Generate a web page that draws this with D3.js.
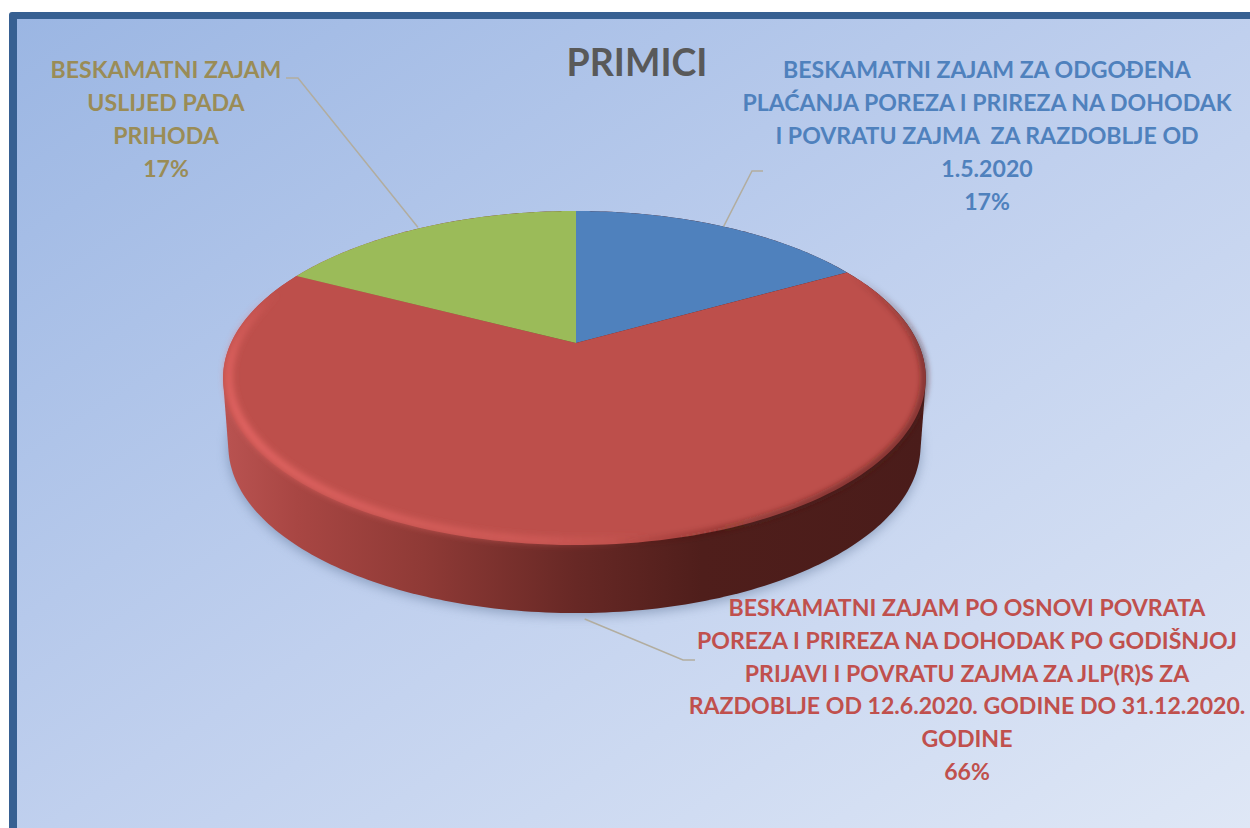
<!DOCTYPE html>
<html><head><meta charset="utf-8">
<script src="https://cdn.jsdelivr.net/npm/d3@7"></script>
<style>html,body{margin:0;padding:0;background:#fff;overflow:hidden}svg{display:block}text{font-family:Lato,"Open Sans",sans-serif;font-weight:700}</style>
</head><body><svg id="c" width="1250" height="828"></svg>
<script>
const chartTitle = "PRIMICI";
const categories = ["PLACANJE", "POVRAT", "PAD"];
const values = [16.9, 65.7, 17.4];
const sliceColors = ["#4f81bd", "#bd4f4b", "#9bbb59"];
const labelColors = ["#4f81bd", "#c0504d", "#9a8c56"];
const labelLines = [
  ["BESKAMATNI ZAJAM ZA ODGOĐENA", "PLAĆANJA POREZA I PRIREZA NA DOHODAK", "I POVRATU ZAJMA  ZA RAZDOBLJE OD", "1.5.2020"],
  ["BESKAMATNI ZAJAM PO OSNOVI POVRATA", "POREZA I PRIREZA NA DOHODAK PO GODIŠNJOJ", "PRIJAVI I POVRATU ZAJMA ZA JLP(R)S ZA", "RAZDOBLJE OD 12.6.2020. GODINE DO 31.12.2020.", "GODINE"],
  ["BESKAMATNI ZAJAM", "USLIJED PADA", "PRIHODA"]
];
const labelLayout = [
  {x: 987, y: 78, dy: 33, elbow: [752, 171], end: [763, 171], off: [1, 0], depth: 0},
  {x: 967, y: 616, dy: 32.8, elbow: [683, 660], end: [695, 660], off: [2, 6], depth: 1},
  {x: 166, y: 78, dy: 33, elbow: [298, 78], end: [286, 78], off: [-6, 0], depth: 0}
];
const rimLightAngles = [170, 185, 215, 240, 265, 280, 290];
const rimLightOpacity = [0, 0.4, 0.7, 0.9, 0.7, 0.35, 0];
const rimDarkAngles = [62, 75, 95, 140, 160, 175];
const rimDarkOpacity = [0, 0.35, 0.85, 0.85, 0.5, 0];

const W = 1250, H = 828;
const svg = d3.select("#c");
const defs = svg.append("defs");

function grad(id, stops, attrs) {
  const g = defs.append("linearGradient").attr("id", id);
  Object.entries(attrs).forEach(([k, v]) => g.attr(k, v));
  stops.forEach(s => g.append("stop").attr("offset", s[0]).attr("stop-color", s[1]));
}
grad("bg", [[0, "#9bb6e3"], [0.5, "#c0d0ee"], [1, "#e0e8f6"]], {x1: 0, y1: 0, x2: 1, y2: 1});
grad("wall", [[0, "#b85250"], [0.1, "#a84643"], [0.28, "#8f3a36"], [0.5, "#672825"], [0.68, "#4f1e1b"], [1, "#4a1c1a"]],
  {gradientUnits: "userSpaceOnUse", x1: 228, y1: 0, x2: 925, y2: 0});
defs.append("filter").attr("id", "blurS").attr("x", "-10%").attr("y", "-10%").attr("width", "120%").attr("height", "120%")
  .append("feGaussianBlur").attr("stdDeviation", 6);
defs.append("filter").attr("id", "blurR").attr("filterUnits", "userSpaceOnUse").attr("x", 150).attr("y", 150).attr("width", 900).attr("height", 500)
  .append("feGaussianBlur").attr("stdDeviation", 3);

// projective mapping of the unit disc onto the tilted pie top
const apex = [576, 343], A = 342, leftStretch = 1.009, B = 159.7, P = -0.2096, thick = 68, bottomScale = 0.985;
function project(angle, r = 1, depth = 0) {
  const u = r * Math.sin(angle), v = -r * Math.cos(angle), w = 1 + P * v;
  const k = (depth ? bottomScale : 1) * (u < 0 ? leftStretch : 1);
  return [apex[0] + k * (A * u / w), apex[1] + B * v / w + depth * thick];
}
const line = d3.line();
const pie = d3.pie().sort(null).value(d => d)(values);
const samples = (a0, a1, n = 160) => d3.range(n + 1).map(i => a0 + (a1 - a0) * i / n);
const full = samples(0, 2 * Math.PI, 360);
const bottomPts = full.map(a => project(a, 1, 1));
const topPts = full.map(a => project(a));
const rad = d => d * Math.PI / 180;

// background and frame
svg.append("rect").attr("x", 9).attr("y", 12).attr("width", W).attr("height", H).attr("rx", 3).attr("fill", "#376092");
svg.append("rect").attr("x", 17).attr("y", 19).attr("width", W).attr("height", H).attr("fill", "url(#bg)");

// shadow
svg.append("path").attr("d", line(bottomPts.map(p => [p[0], p[1] + 3])) + "Z")
  .attr("fill", "#5f7496").attr("opacity", 0.55).attr("filter", "url(#blurS)");

// side wall
svg.append("path").attr("d", line(d3.polygonHull(bottomPts.concat(topPts))) + "Z").attr("fill", "url(#wall)");

// top face
svg.append("g").selectAll("path").data(pie).join("path")
  .attr("d", d => line([apex].concat(samples(d.startAngle, d.endAngle).map(a => project(a)))) + "Z")
  .attr("fill", (d, i) => sliceColors[i]);

// bevel along the rim of the large slice, as short segments whose opacity follows the angle
function rimBand(angles, opac, color, r, width) {
  const op = d3.scaleLinear().domain(angles).range(opac);
  const deg = d3.range(angles[0], angles[angles.length - 1], 1.5);
  svg.append("g").attr("filter", "url(#blurR)").selectAll("path").data(deg).join("path")
    .attr("d", d => line([project(rad(d), r), project(rad(d + 1.5), r)]))
    .attr("fill", "none").attr("stroke", color).attr("stroke-width", width).attr("stroke-opacity", d => op(d + 0.75));
}
rimBand(rimDarkAngles, rimDarkOpacity, "#4a1c1a", 0.997, 4.5);
rimBand(rimLightAngles, rimLightOpacity, "#e86866", 0.985, 8);

// leaders
pie.forEach((d, i) => {
  const L = labelLayout[i];
  const p = project((d.startAngle + d.endAngle) / 2, 1, L.depth);
  svg.append("path").attr("d", line([[p[0] + L.off[0], p[1] + L.off[1]], L.elbow, L.end]))
    .attr("fill", "none").attr("stroke", "#b2ad9f").attr("stroke-width", 1.5);
});

// labels
labelLines.forEach((lines, i) => {
  const L = labelLayout[i];
  const t = svg.append("text").attr("text-anchor", "middle").attr("fill", labelColors[i]).attr("font-size", 23.1).style("white-space", "pre");
  const all = lines.concat([Math.round(values[i]) + "%"]);
  all.forEach((s, j) => t.append("tspan").attr("x", L.x).attr("y", L.y + j * L.dy).text(s));
});

// title
svg.append("text").attr("x", 637).attr("y", 76).attr("text-anchor", "middle").attr("fill", "#595959").attr("font-size", 37.5).text(chartTitle);
</script></body></html>
